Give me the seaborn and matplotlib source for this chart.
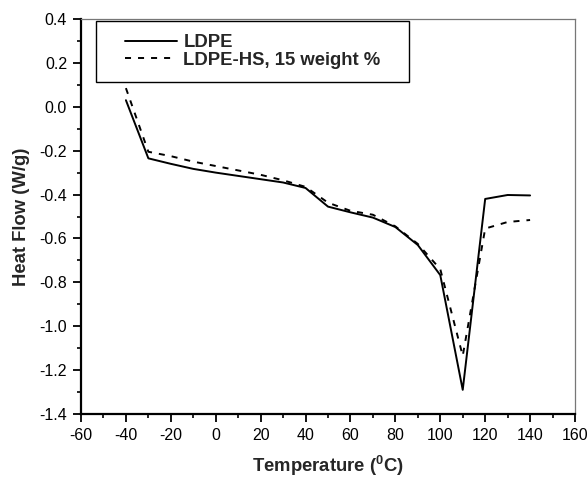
import numpy as np
import pandas as pd
import matplotlib
matplotlib.use("Agg")
import matplotlib.pyplot as plt
from matplotlib.patches import Rectangle
from matplotlib.ticker import MultipleLocator
import seaborn as sns

# DSC heat flow curves
temperature = [-40, -30, -20, -10, 0, 10, 20, 30, 40, 50, 60, 70, 80, 90, 100, 110, 120, 130, 140]
ldpe = [0.03, -0.235, -0.26, -0.283, -0.30, -0.315, -0.33, -0.345, -0.37, -0.455,
        -0.481, -0.505, -0.548, -0.63, -0.767, -1.29, -0.42, -0.402, -0.404]
ldpe_hs = [0.085, -0.205, -0.225, -0.25, -0.27, -0.29, -0.31, -0.335, -0.365, -0.437,
           -0.474, -0.492, -0.545, -0.625, -0.74, -1.135, -0.555, -0.525, -0.516]
labels = ["LDPE", "LDPE-HS, 15 weight %"]

df = pd.concat([
    pd.DataFrame({"Temperature": temperature, "HeatFlow": ldpe, "Sample": labels[0]}),
    pd.DataFrame({"Temperature": temperature, "HeatFlow": ldpe_hs, "Sample": labels[1]}),
])

sns.set_style("ticks")
plt.rcParams["font.family"] = ["Liberation Sans", "DejaVu Sans"]
plt.rcParams["axes.unicode_minus"] = False
plt.rcParams["mathtext.fontset"] = "custom"
plt.rcParams["mathtext.bf"] = "Liberation Sans:bold"
plt.rcParams["mathtext.rm"] = "Liberation Sans"

fig = plt.figure(figsize=(5.88, 4.78), dpi=100)
ax = fig.add_axes([81 / 588, 1 - 414 / 478, 494 / 588, 395 / 478])

sns.lineplot(data=df, x="Temperature", y="HeatFlow", style="Sample",
             dashes={labels[0]: "", labels[1]: (3.1, 3.6)}, color="black",
             linewidth=1.4, ax=ax, legend=True)

ax.set_xlim(-60, 160)
ax.set_ylim(-1.4, 0.4)
ax.xaxis.set_major_locator(MultipleLocator(20))
ax.xaxis.set_minor_locator(MultipleLocator(10))
ax.yaxis.set_major_locator(MultipleLocator(0.2))
ax.yaxis.set_minor_locator(MultipleLocator(0.1))
ax.yaxis.set_major_formatter(matplotlib.ticker.FuncFormatter(lambda v, p: f"{v:.1f}"))
ax.tick_params(which="major", direction="out", length=5.5, width=1.3, labelsize=11.5,
               colors="black", pad=4.5)
ax.tick_params(which="minor", direction="out", length=3.2, width=1.2, colors="black")

for side in ["left", "bottom"]:
    ax.spines[side].set_linewidth(1.6)
    ax.spines[side].set_color("black")
for side in ["top", "right"]:
    ax.spines[side].set_visible(True)
    ax.spines[side].set_linewidth(0.9)
    ax.spines[side].set_color("#777777")

ax.set_xlabel(r"Temperature ($^{\mathbf{0}}$C)", fontsize=13.3, fontweight="bold", labelpad=8)
ax.set_ylabel("Heat Flow (W/g)", fontsize=13.3, fontweight="bold", labelpad=7)

# legend box drawn separately so the padding matches
ax.add_patch(Rectangle((15 / 494, 332 / 395), 313 / 494, 61 / 395, transform=ax.transAxes,
                       facecolor="white", edgecolor="black", linewidth=1.0, zorder=4))
leg = ax.legend(loc="center left", bbox_to_anchor=(35 / 494, (414 - 51.5) / 395),
                frameon=False, borderpad=0, handlelength=2.8, handletextpad=0.35,
                labelspacing=0.05, prop={"weight": "bold", "size": 13.3})
leg.set_zorder(5)

fig.savefig("out.png", dpi=100)
